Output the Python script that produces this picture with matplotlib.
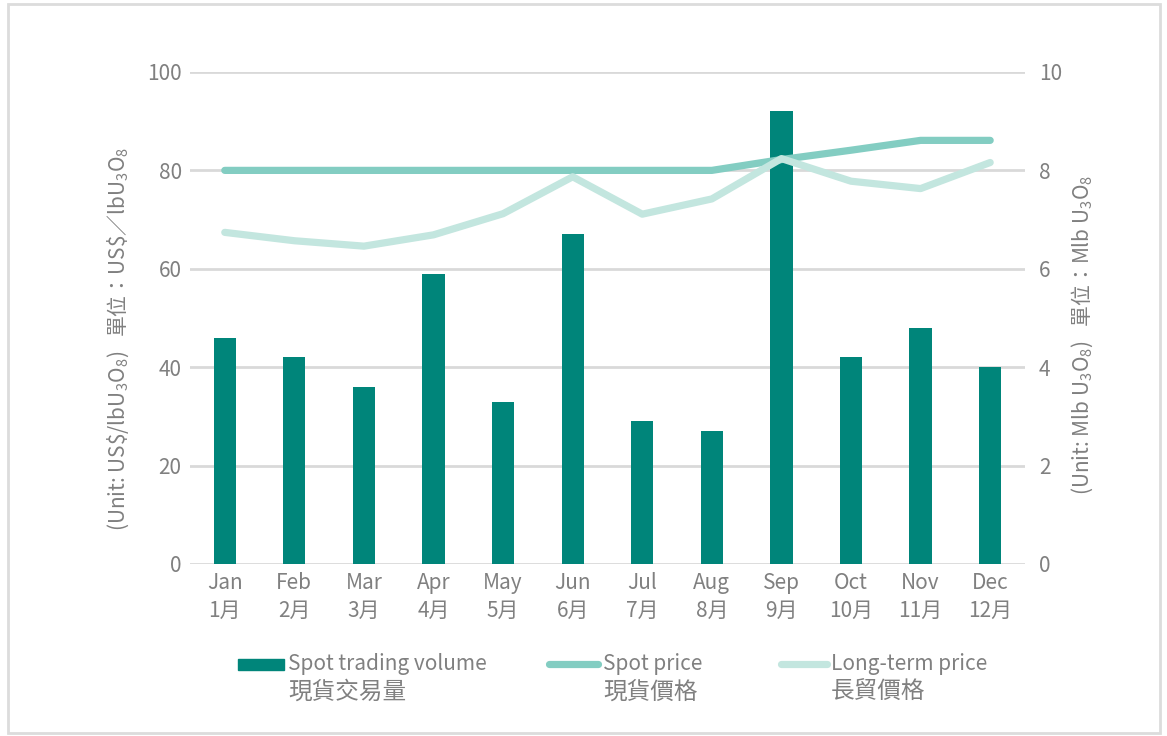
import matplotlib
matplotlib.use("Agg")
import matplotlib.pyplot as plt
from matplotlib.patches import Rectangle
from matplotlib.lines import Line2D
import numpy as np

plt.rcParams['font.family'] = ['Noto Sans CJK TC', 'DejaVu Sans']
plt.rcParams['mathtext.fontset'] = 'custom'
plt.rcParams['mathtext.rm'] = 'Noto Sans CJK TC'
plt.rcParams['mathtext.it'] = 'Noto Sans CJK TC'

# data
months_en = ["Jan", "Feb", "Mar", "Apr", "May", "Jun",
             "Jul", "Aug", "Sep", "Oct", "Nov", "Dec"]
months_zh = ["1月", "2月", "3月", "4月", "5月", "6月",
             "7月", "8月", "9月", "10月", "11月", "12月"]
volume = [4.6, 4.2, 3.6, 5.9, 3.3, 6.7, 2.9, 2.7, 9.2, 4.2, 4.8, 4.0]   # Mlb U3O8
spot_price = [80, 80, 80, 80, 80, 80, 80, 80, 82.2, 84.1, 86.1, 86.1]  # US$/lb
long_term = [67.4, 65.7, 64.6, 66.9, 71.2, 78.7, 71.1, 74.2, 82.4, 77.8, 76.3, 81.6]
legend_en = ["Spot trading volume", "Spot price", "Long-term price"]
legend_zh = ["現貨交易量", "現貨價格", "長貿價格"]

c_bar = "#00857a"
c_spot = "#83cdc2"
c_long = "#c3e6df"
c_text = "#808080"
fs = 15

fig = plt.figure(figsize=(11.67, 7.36), dpi=100)
fig.add_artist(Rectangle((0.007, 0.004), 0.987, 0.99, transform=fig.transFigure,
                         fill=False, edgecolor="#dcdcdc", linewidth=2))

ax2 = fig.add_axes([0.1628, 0.2337, 0.7155, 0.6685])
ax = ax2.twinx()
ax.set_zorder(ax2.get_zorder() + 1)
ax.patch.set_visible(False)

x = np.arange(len(months_en))
ax2.bar(x, volume, width=0.32, color=c_bar, zorder=2)
ax2.set_ylim(0, 10)
ax2.set_yticks(np.arange(0, 11, 2))
ax2.yaxis.tick_right()
ax2.grid(axis="y", color="#d9d9d9", linewidth=2)
ax2.set_axisbelow(True)

ax.plot(x, spot_price, color=c_spot, linewidth=5.2, solid_capstyle="round")
ax.plot(x, long_term, color=c_long, linewidth=5.2, solid_capstyle="round")
ax.set_ylim(0, 100)
ax.set_yticks(np.arange(0, 101, 20))
ax.yaxis.tick_left()
ax.set_xlim(-0.5, 11.5)

ax2.set_xticks(x)
ax2.set_xticklabels([e + "\n" + z for e, z in zip(months_en, months_zh)],
                    linespacing=1.3)

for a in (ax, ax2):
    for s in a.spines.values():
        s.set_visible(False)
    a.tick_params(length=0, labelsize=fs, labelcolor=c_text)
ax.tick_params(axis="y", pad=6)
ax2.tick_params(axis="y", pad=10)
ax2.tick_params(axis="x", pad=6)

fig.text(0.101, 0.54, r"(Unit: US\$/lbU$_3$O$_8$)   單位：US\$／lbU$_3$O$_8$",
         rotation=90, ha="center", va="center", fontsize=fs, color=c_text)
fig.text(0.927, 0.545, r"(Unit: Mlb U$_3$O$_8$)   單位：Mlb U$_3$O$_8$",
         rotation=90, ha="center", va="center", fontsize=fs, color=c_text)

# legend
W, H = 1167, 736
fig.add_artist(Rectangle((238 / W, 1 - 670 / H), 46 / W, 11 / H,
                         transform=fig.transFigure, color=c_bar))
for (x0, x1), col in zip([(549, 598), (781, 827)], [c_spot, c_long]):
    fig.add_artist(Line2D([x0 / W, x1 / W], [1 - 664 / H, 1 - 664 / H],
                          transform=fig.transFigure, color=col, linewidth=5.2,
                          solid_capstyle="round"))
for tx, en, zh in zip([288, 603, 831], legend_en, legend_zh):
    fig.text(tx / W, 1 - 664 / H, en, ha="left", va="center", fontsize=fs, color=c_text)
    fig.text(tx / W, 1 - 692 / H, zh, ha="left", va="center", fontsize=17, color=c_text)

fig.savefig("out.png", dpi=100)
